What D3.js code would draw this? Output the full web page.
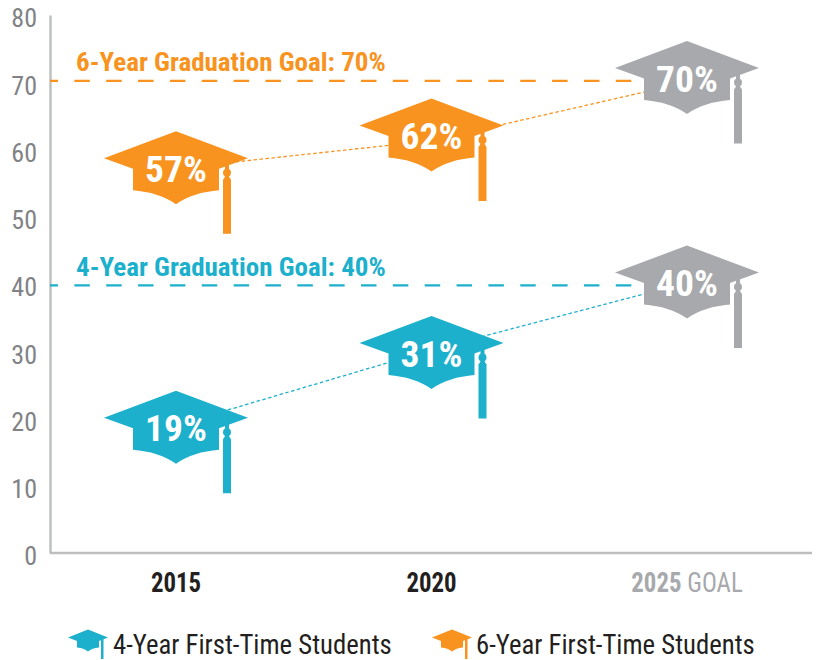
<!DOCTYPE html>
<html><head><meta charset="utf-8">
<script src="https://cdnjs.cloudflare.com/ajax/libs/d3/7.8.5/d3.min.js"></script>
<style>html,body{margin:0;padding:0;background:#fff}svg{display:block}text{font-family:"Liberation Sans Narrow","Roboto Condensed","Liberation Sans",sans-serif}</style>
</head><body><svg id="c" width="817" height="660"></svg>
<script>
const categories=["2015","2020","2025"];
const yTicks=[0,10,20,30,40,50,60,70,80];
const sixYearLabels=[57,62,70];
const fourYearLabels=[19,31,40];
const sixYearCap=[57.3,62.15,70.7];
const fourYearCap=[18.7,29.8,40.3];
const sixYearLine=[57.2,61.3,70];
const fourYearLine=[19,30.2,40.2];
const goalValues=[70.2,39.8];
const goalTexts=["6-Year Graduation Goal: 70%","4-Year Graduation Goal: 40%"];
const legendNames=["4-Year First-Time Students","6-Year First-Time Students"];
const ORANGE="#F7931E",TEAL="#1CB0CC",GRAY="#A7A9AC";
const goalColors=[ORANGE,TEAL];

const svg=d3.select("#c");
const y=d3.scaleLinear().domain([0,80]).range([553,15]);
const x=d3.scalePoint().domain(categories).range([176,687]);

function stext(px,py,sx,size,weight,fill,anchor,str){
  return svg.append("text").attr("transform",`translate(${px},${py}) scale(${sx},1)`)
    .attr("text-anchor",anchor).attr("fill",fill).style("font-size",size+"px").style("font-weight",weight).text(str);
}

// axes
const ya=svg.append("g").attr("transform","translate(50,0)").call(d3.axisLeft(y).tickValues(yTicks).tickSize(0).tickPadding(13));
ya.select(".domain").attr("stroke","#BCBEC0").attr("stroke-width",2.4);
ya.selectAll("text").attr("fill","#808285").style("font-size","26px").attr("dy","0.46em");
svg.append("line").attr("x1",50).attr("x2",812).attr("y1",y(0)).attr("y2",y(0)).attr("stroke","#BCBEC0").attr("stroke-width",2.4);

// goal lines
goalValues.forEach((v,i)=>{
  svg.append("line").attr("x1",50).attr("x2",633).attr("y1",y(v)).attr("y2",y(v))
    .attr("stroke",goalColors[i]).attr("stroke-width",2.2).attr("stroke-dasharray","15.5 16.35").attr("stroke-dashoffset",7.5);
  stext(76,y(v)-9.5,1.04,26,700,goalColors[i],"start",goalTexts[i]);
});

// connectors
const line=d3.line().x((d,i)=>x(categories[i])).y(d=>y(d));
[[sixYearLine,ORANGE],[fourYearLine,TEAL]].forEach(([s,c])=>{
  svg.append("path").attr("d",line(s)).attr("fill","none").attr("stroke",c).attr("stroke-width",1.3).attr("stroke-dasharray","3.5 2.5");
});

function cap(g,c){
  g.append("path").attr("d","M0,-36.5 L72,-9.5 L43,1 L43,22.5 C26,24 12,28 0,36.5 C-12,28 -26,24 -43,22.5 L-43,1 L-72,-9.5 Z").attr("fill",c);
  g.append("rect").attr("x",49).attr("y",-3).attr("width",4).attr("height",16).attr("fill",c);
  g.append("circle").attr("cx",51).attr("cy",5).attr("r",4).attr("fill",c);
  g.append("path").attr("d","M49,9 L53,9 L55,12 L55,66 L47,66 L47,12 Z").attr("fill",c);
}
function drawSeries(plot,labels,c){
  categories.forEach((d,i)=>{
    const g=svg.append("g").attr("transform",`translate(${x(d)},${y(plot[i])})`);
    cap(g,i===2?GRAY:c);
    g.append("text").attr("text-anchor","middle").attr("y",14).attr("fill","#fff")
      .style("font-size","37.5px").style("font-weight",700).text(labels[i]+"%");
  });
}
drawSeries(sixYearCap,sixYearLabels,ORANGE);
drawSeries(fourYearCap,fourYearLabels,TEAL);

// x labels
categories.forEach((d,i)=>{
  const t=stext(x(d),592,0.92,27,700,i===2?GRAY:"#231F20","middle",d);
  if(i===2) t.append("tspan").style("font-weight",400).text(" GOAL");
});

// legend
function legendIcon(cx,cy,c){
  const g=svg.append("g").attr("transform",`translate(${cx},${cy})`);
  g.append("path").attr("d","M0,-10.5 L20,-2.5 L11,1 L11,7.5 C6,8 3,9 0,11.5 C-3,9 -6,8 -11,7.5 L-11,1 L-20,-2.5 Z").attr("fill",c);
  g.append("rect").attr("x",13).attr("y",-1).attr("width",2.5).attr("height",20).attr("fill",c);
}
legendIcon(88,640,TEAL);
legendIcon(452,640,ORANGE);
[113,476].forEach((lx,i)=>{
  stext(lx,654,0.99,27,400,"#231F20","start",legendNames[i]);
});
</script></body></html>
